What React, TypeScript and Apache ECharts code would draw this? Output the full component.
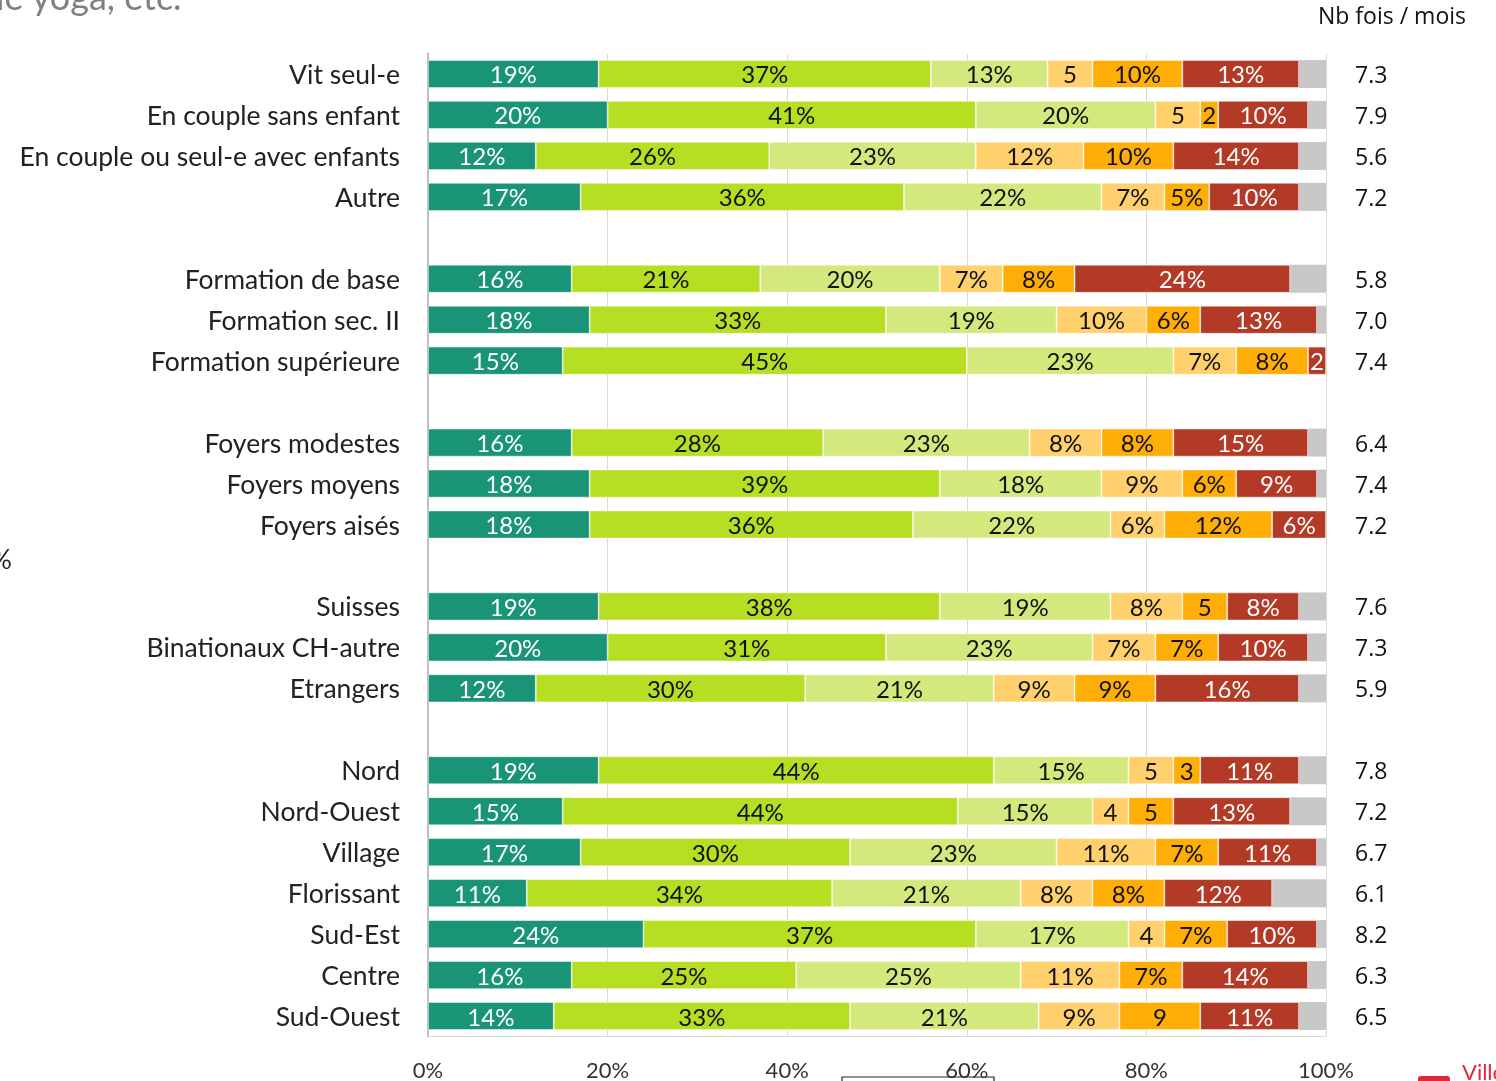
import React, { useEffect, useRef } from "react";
import * as echarts from "echarts";

const categories = [
  "Vit seul-e", "En couple sans enfant", "En couple ou seul-e avec enfants", "Autre", "",
  "Formation de base", "Formation sec. II", "Formation supérieure", " ",
  "Foyers modestes", "Foyers moyens", "Foyers aisés", "  ",
  "Suisses", "Binationaux CH-autre", "Etrangers", "   ",
  "Nord", "Nord-Ouest", "Village", "Florissant", "Sud-Est", "Centre", "Sud-Ouest",
];

const seg1 = [19, 20, 12, 17, null, 16, 18, 15, null, 16, 18, 18, null, 19, 20, 12, null, 19, 15, 17, 11, 24, 16, 14];
const seg2 = [37, 41, 26, 36, null, 21, 33, 45, null, 28, 39, 36, null, 38, 31, 30, null, 44, 44, 30, 34, 37, 25, 33];
const seg3 = [13, 20, 23, 22, null, 20, 19, 23, null, 23, 18, 22, null, 19, 23, 21, null, 15, 15, 23, 21, 17, 25, 21];
const seg4 = [5, 5, 12, 7, null, 7, 10, 7, null, 8, 9, 6, null, 8, 7, 9, null, 5, 4, 11, 8, 4, 11, 9];
const seg5 = [10, 2, 10, 5, null, 8, 6, 8, null, 8, 6, 12, null, 5, 7, 9, null, 3, 5, 7, 8, 7, 7, 9];
const seg6 = [13, 10, 14, 10, null, 24, 13, 2, null, 15, 9, 6, null, 8, 10, 16, null, 11, 13, 11, 12, 10, 14, 11];
const segRest = [3, 2, 3, 3, null, 4, 1, 0, null, 2, 1, 0, null, 3, 2, 3, null, 3, 4, 1, 6, 1, 2, 3];

const nbFois = [
  "7.3", "7.9", "5.6", "7.2", "",
  "5.8", "7.0", "7.4", "",
  "6.4", "7.4", "7.2", "",
  "7.6", "7.3", "5.9", "",
  "7.8", "7.2", "6.7", "6.1", "8.2", "6.3", "6.5",
];

const xTicks = [0, 20, 40, 60, 80, 100];

// segments whose label is shown without the % sign: [category, series index]
const shortLabels: [string, number][] = [
  ["Vit seul-e", 3], ["En couple sans enfant", 3], ["En couple sans enfant", 4],
  ["Formation supérieure", 5], ["Suisses", 4], ["Nord", 3], ["Nord", 4],
  ["Nord-Ouest", 3], ["Nord-Ouest", 4], ["Sud-Est", 3], ["Sud-Ouest", 4],
];

const seriesNames = ["Très souvent", "Souvent", "Assez souvent", "Parfois", "Rarement", "Jamais", "Sans réponse"];
const seriesData = [seg1, seg2, seg3, seg4, seg5, seg6, segRest];
const seriesColors = ["#1a9476", "#b6de22", "#d4e97d", "#ffd06c", "#ffae08", "#b23a27", "#c8c8c8"];
const labelColors = ["#ffffff", "#111111", "#111111", "#111111", "#111111", "#ffffff", "#111111"];

export default function App() {
  const ref = useRef<HTMLDivElement>(null);
  useEffect(() => {
    if (!ref.current) return;
    const chart = echarts.init(ref.current, undefined, { renderer: "svg" });
    const shortSet = new Set(shortLabels.map(([c, i]) => c + "|" + i));
    const series = seriesData.map((data, si) => ({
      name: seriesNames[si],
      type: "bar",
      stack: "total",
      barWidth: 28,
      data,
      itemStyle: { color: seriesColors[si], borderColor: "rgba(255,255,255,0.6)", borderWidth: si === 6 ? 0 : 0.8 },
      label: {
        show: si < 6,
        position: "inside",
        color: labelColors[si],
        fontFamily: "Lato",
        fontSize: 24,
        formatter: (p: any) => {
          if (p.value == null || p.value === 0) return "";
          const key = categories[p.dataIndex] + "|" + si;
          return shortSet.has(key) ? String(p.value) : p.value + "%";
        },
      },
      emphasis: { disabled: true },
    }));
    chart.setOption({
      animation: false,
      grid: { left: 428, right: 170, top: 53.5, height: 983, containLabel: false },
      xAxis: {
        type: "value",
        min: 0,
        max: 100,
        interval: 20,
        axisLine: { show: true, lineStyle: { color: "#d9d9d9" } },
        axisTick: { show: false },
        splitLine: { show: true, lineStyle: { color: "#d9d9d9", width: 1 } },
        axisLabel: {
          formatter: (v: number) => (xTicks.includes(v) ? v + "%" : ""),
          fontFamily: "Lato",
          fontSize: 22,
          color: "#333",
          margin: 22,
        },
      },
      yAxis: [
        {
          type: "category",
          data: categories,
          inverse: true,
          axisLine: { show: true, lineStyle: { color: "#bfbfbf", width: 2 } },
          axisTick: { show: false },
          axisLabel: { fontFamily: "Lato", fontSize: 26.5, color: "#222", margin: 28 },
        },
        {
          type: "category",
          data: nbFois,
          inverse: true,
          position: "right",
          axisLine: { show: false },
          axisTick: { show: false },
          axisLabel: { fontFamily: "Open Sans", fontSize: 23, color: "#111", margin: 29, align: "left" },
        },
      ],
      series,
      graphic: [
        { type: "text", left: 1318, top: 3, style: { text: "Nb fois / mois", fontFamily: "Open Sans", fontSize: 23, fill: "#111" } },
        { type: "text", left: -4, top: -22, style: { text: "le yoga, etc.", fontFamily: "Lato", fontSize: 36, fill: "#808080" } },
        { type: "text", left: -9, top: 546, style: { text: "%", fontFamily: "Lato", fontSize: 26, fill: "#222" } },
        { type: "rect", shape: { x: 842, y: 1077, width: 152, height: 30 }, style: { fill: "none", stroke: "#222", lineWidth: 1.2 } },
        { type: "rect", shape: { x: 1418, y: 1076, width: 32, height: 8, r: 3 }, style: { fill: "#e3263a" } },
        { type: "text", left: 1462, top: 1060, style: { text: "Ville", fontFamily: "Lato", fontSize: 22, fill: "#e3263a" } },
      ],
    });
    return () => chart.dispose();
  }, []);
  return <div ref={ref} style={{ position: "fixed", left: 0, top: 0, width: 1496, height: 1081 }} />;
}
